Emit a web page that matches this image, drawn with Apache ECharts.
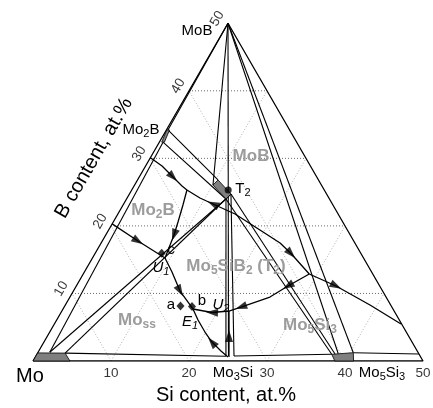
<!DOCTYPE html>
<html><head><meta charset="utf-8">
<script src="https://cdn.jsdelivr.net/npm/echarts@6/dist/echarts.min.js"></script>
<style>html,body{margin:0;padding:0;background:#fff}#c{width:433px;height:408px}</style>
</head><body><div id="c"></div>
<script>
// ---- data: compositions as [Si at.%, B at.%] ----
const siTicks = [10, 20, 30, 40, 50];
const bTicks = [10, 20, 30, 40, 50];
const gridLevels = [10, 20, 30, 40];
const triangle = [[0, 0], [50, 0], [0, 50], [0, 0]];

// liquidus valleys, ordered in direction of falling temperature
const curveE2P = [[0, 30.1], [2.11, 28.87], [4.33, 27.24], [6.15, 25.91], [7.08, 25.31]];
const curvePU1 = [[7.08, 25.31], [7.68, 23.09], [8.30, 20.58], [8.75, 18.65], [9.30, 15.25]];
const curveE1U1 = [[0, 20.3], [4.58, 17.76], [9.30, 15.25]];
const curveU1E1 = [[9.30, 15.25], [11.23, 13.18], [13.67, 10.36], [16.66, 7.70]];
const curveMo3SiE1 = [[24.70, 0.59], [23.36, 1.48], [21.54, 2.81], [19.90, 4.29], [18.12, 6.07], [16.66, 7.70]];
const curveMo3SiU2 = [[24.83, 0.59], [23.28, 3.70], [21.43, 7.40]];
const curveU2E1 = [[21.43, 7.40], [19.36, 7.18], [16.66, 7.70]];
const curveQU2 = [[28.98, 12.88], [27.14, 11.10], [25.64, 9.47], [22.67, 7.99], [21.43, 7.40]];
const curveQEdge = [[28.98, 12.88], [33.30, 11.10], [39.06, 8.29], [44.44, 5.48]];
const curveSP = [[15.02, 21.76], [11.46, 23.24], [9.34, 24.13], [7.08, 25.31]];
const curveSQ = [[15.02, 21.76], [19.40, 19.39], [22.94, 17.47], [25.12, 15.91], [28.98, 12.88]];

// arrows: [curve, vertex index]
const arrows = [
  [curveE2P, 2], [curvePU1, 3], [curveE1U1, 1], [curveU1E1, 2], [curveMo3SiE1, 2],
  [curveMo3SiU2, 1], [curveU2E1, 1], [curveQU2, 1], [curveQU2, 3], [curveQEdge, 1],
  [curveSP, 1], [curveSQ, 3]
];

// tie lines of the isothermal section
const tieLines = [
  [[1.5, 1.3], [0.47, 32.4]],
  [[0.2, 34.2], [0, 50]],
  [[0.2, 34.2], [10.32, 26.8]],
  [[0.47, 32.4], [12.75, 23.98]],
  [[1.5, 1.3], [12.75, 23.98]],
  [[3.53, 1.17], [13.02, 24.72]],
  [[3.53, 1.17], [24.38, 0.71]],
  [[0, 50], [10.05, 26.05]],
  [[0, 50], [24.69, 0.74]],
  [[12.75, 23.98], [24.38, 0.71]],
  [[13.02, 24.72], [25.4, 0.74]],
  [[25.4, 0.74], [37.8, 0.99]],
  [[12.75, 23.98], [37.8, 0.99]],
  [[13.02, 24.72], [38.2, 1.04]],
  [[0, 50], [38.6, 1.07]],
  [[0, 50], [40.45, 1.23]],
  [[40.45, 1.23], [48.97, 1.03]]
];

// single-phase fields
const phaseMoss = [[0, 0], [4.74, 0], [3.53, 1.17], [0, 1.2]];
const phaseMo5Si3 = [[38.7, 0], [41.1, 0], [40.45, 1.23], [37.8, 0.99]];
const phaseT2 = [[10.05, 26.05], [10.32, 26.8], [13.02, 24.72], [12.75, 23.98]];
const phaseMo2B = [[0.3, 32.4], [0.05, 34.2], [0.4, 34.2], [0.65, 32.4]];

// alloys and T2 point
const alloys = [[14.84, 8.14], [16.35, 8.07], [8.53, 15.94]];
const pointT2 = [[12.37, 25.31]];

// ---- projection ----
const S3 = Math.sqrt(3) / 2;
const P = p => [p[0] + p[1] / 2, p[1] * S3];
const F = '"Liberation Sans", Arial, sans-serif';

const series = [];
function addLine(pts, style, z) {
  series.push({
    type: 'line', data: pts.map(P), symbol: 'none', showSymbol: false, silent: true,
    animation: false, z: z || 3, lineStyle: Object.assign({ color: '#000', width: 1 }, style)
  });
}
// grid
gridLevels.forEach(v => {
  addLine([[0, v], [50 - v, v]], { color: '#6a6a6a', width: 1, type: [1, 2] }, 1);
  addLine([[v, 0], [v, 50 - v]], { color: '#b0b0b0', width: 1, type: [1, 2] }, 1);
  addLine([[v, 0], [0, v]], { color: '#b0b0b0', width: 1, type: [1, 2] }, 1);
});
addLine(triangle, { width: 1.3 }, 4);
tieLines.forEach(t => addLine(t, { width: 1.1 }, 3));
[curveE2P, curvePU1, curveE1U1, curveU1E1, curveMo3SiE1, curveMo3SiU2, curveU2E1,
 curveQU2, curveQEdge, curveSP, curveSQ].forEach(c => addLine(c, { width: 1.3 }, 3));

// phase polygons
const polys = [phaseMoss, phaseMo5Si3, phaseT2, phaseMo2B];
series.push({
  type: 'custom', coordinateSystem: 'cartesian2d', silent: true, animation: false, z: 5,
  data: polys.map(p => P(p[0])),
  renderItem: (params, api) => ({
    type: 'polygon',
    shape: { points: polys[params.dataIndex].map(p => api.coord(P(p))) },
    style: { fill: '#7f7f7f', stroke: '#000', lineWidth: 0.8 }
  })
});

// arrows
series.push({
  type: 'scatter', silent: true, animation: false, z: 6,
  symbol: 'path://M0,0L5,14L-5,14Z', symbolSize: [8, 12],
  itemStyle: { color: '#000' },
  data: arrows.map(([c, i]) => {
    const a = P(c[Math.max(i - 1, 0)]), b = P(c[Math.min(i + 1, c.length - 1)]);
    const ang = Math.atan2(b[1] - a[1], b[0] - a[0]) * 180 / Math.PI;
    return { value: P(c[i]), symbolRotate: ang - 90 };
  })
});
// alloy markers
series.push({
  type: 'scatter', silent: true, animation: false, z: 7, symbol: 'diamond', symbolSize: [8, 9],
  itemStyle: { color: '#000' }, data: alloys.map(P)
});
series.push({
  type: 'scatter', silent: true, animation: false, z: 7, symbol: 'circle', symbolSize: 7,
  itemStyle: { color: '#000' }, data: pointT2.map(P)
});
// tick labels
series.push({
  type: 'scatter', silent: true, animation: false, symbolSize: 0, z: 8,
  data: bTicks.map(b => P([0, b])),
  label: {
    show: true, position: 'inside', rotate: 60, offset: [-1.4, -11.5],
    fontSize: 13.5, fontFamily: F, color: '#000',
    formatter: p => String(bTicks[p.dataIndex])
  }
});
series.push({
  type: 'scatter', silent: true, animation: false, symbolSize: 0, z: 8,
  data: siTicks.map(s => P([s, 0])),
  label: {
    show: true, position: 'inside', offset: [0, 12.5],
    fontSize: 13.5, fontFamily: F, color: '#000',
    formatter: p => String(siTicks[p.dataIndex])
  }
});

// ---- text labels (layout in pixels) ----
function rich(size, color, weight) {
  return {
    n: { fontSize: size, fontFamily: F, fill: color, fontWeight: weight, lineHeight: size + 4 },
    i: { fontSize: size, fontFamily: F, fill: color, fontStyle: 'italic', lineHeight: size + 4 },
    s: { fontSize: Math.round(size * 0.7), fontFamily: F, fill: color, fontWeight: weight, verticalAlign: 'bottom', lineHeight: Math.round(size * 0.75) },
    si: { fontSize: Math.round(size * 0.7), fontFamily: F, fill: color, fontStyle: 'italic', verticalAlign: 'bottom', lineHeight: Math.round(size * 0.75) }
  };
}
function T(x, y, text, size, color, weight, rot) {
  return {
    type: 'text', x: x, y: y, rotation: rot || 0, silent: true, z: 10,
    style: { text: text, align: 'center', verticalAlign: 'middle', rich: rich(size, color || '#000', weight || 'normal') }
  };
}
const G = '#9c9c9c';
const texts = [
  T(197, 31, '{n|MoB}', 15),
  T(141, 130, '{n|Mo}{s|2}{n|B}', 15),
  T(243, 189, '{n|T}{s|2}', 15),
  T(171, 250, '{n|c}', 15),
  T(161, 268, '{i|U}{si|1}', 15),
  T(171, 305, '{n|a}', 15),
  T(202, 301, '{n|b}', 15),
  T(190, 322, '{i|E}{si|1}', 15),
  T(221, 305, '{i|U}{si|2}', 15),
  T(30, 376, '{n|Mo}', 20),
  T(233, 373, '{n|Mo}{s|3}{n|Si}', 15),
  T(382, 373, '{n|Mo}{s|5}{n|Si}{s|3}', 15),
  T(226, 395, '{n|Si content, at.%}', 20),
  T(94, 158, '{n|B content, at.%}', 20, '#000', 'normal', Math.PI / 3),
  T(251, 156, '{n|MoB}', 17, G, 'bold'),
  T(153, 210, '{n|Mo}{s|2}{n|B}', 17, G, 'bold'),
  T(236, 266, '{n|Mo}{s|5}{n|SiB}{s|2}{n| (T}{s|2}{n|)}', 17, G, 'bold'),
  T(137, 320, '{n|Mo}{s|ss}', 17, G, 'bold'),
  T(310, 325, '{n|Mo}{s|5}{n|Si}{s|3}', 17, G, 'bold')
];

const chart = echarts.init(document.getElementById('c'), null, { renderer: 'canvas' });
chart.setOption({
  animation: false,
  backgroundColor: '#fff',
  grid: { left: 33, top: 361 - 50 * S3 * 7.8, width: 390, height: 50 * S3 * 7.8 },
  xAxis: { type: 'value', min: 0, max: 50, show: false },
  yAxis: { type: 'value', min: 0, max: 50 * S3, show: false },
  series: series,
  graphic: texts
});
</script></body></html>
